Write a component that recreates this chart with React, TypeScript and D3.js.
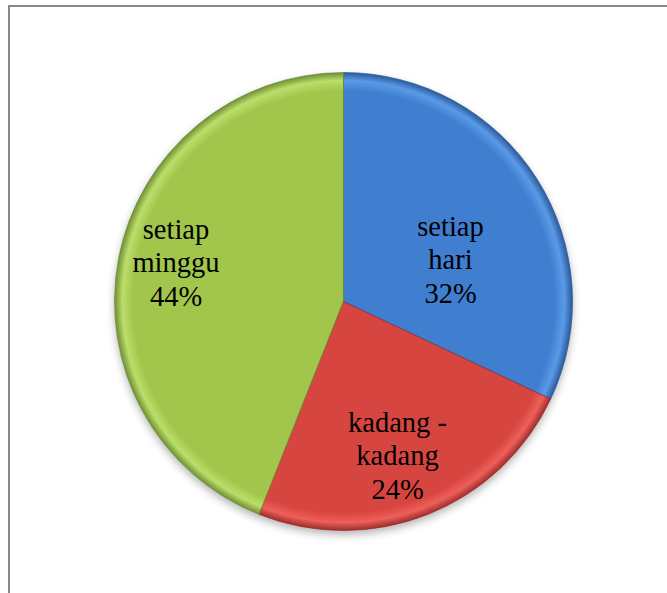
import React from "react";
import * as d3 from "d3";

const categories = ["setiap hari", "kadang - kadang", "setiap minggu"];
const values = [32, 24, 44];
const labelLines = [["setiap", "hari", "32%"], ["kadang -", "kadang", "24%"], ["setiap", "minggu", "44%"]];
const colorsLight = ["#5a9ae8", "#ee5f5a", "#bcde6a"];
const colorsMid = ["#3f7ed0", "#d7443f", "#a1c64b"];
const colorsDark = ["#2a5a98", "#9c2e2b", "#6f8f35"];

export default function App() {
  const W = 667, H = 593;
  const cx = 343.5, cy = 301.5, r = 229;
  const pie = d3.pie<number>().sort(null).value((d) => d)(values);
  const arc = d3.arc<d3.PieArcDatum<number>>().innerRadius(0).outerRadius(r);
  const fs = 28.5;
  const labelPos = [[450.5, 236], [397.5, 432], [176, 239]];
  const lh = 33.3;
  return (
    <svg width={W} height={H} style={{ position: "absolute", left: 0, top: 0 }}>
      <defs>
        {categories.map((c, i) => (
          <radialGradient key={c} id={`g${i}`} cx={0} cy={0} r={r} gradientUnits="userSpaceOnUse">
            <stop offset="0%" stopColor={colorsMid[i]} />
            <stop offset="92%" stopColor={colorsMid[i]} />
            <stop offset="96.5%" stopColor={colorsLight[i]} />
            <stop offset="100%" stopColor={colorsDark[i]} />
          </radialGradient>
        ))}
        <filter id="sh" x="-20%" y="-20%" width="140%" height="140%">
          <feGaussianBlur in="SourceAlpha" stdDeviation="4" />
          <feOffset dx="0" dy="4" result="b" />
          <feComponentTransfer><feFuncA type="linear" slope="0.3" /></feComponentTransfer>
          <feMerge><feMergeNode /><feMergeNode in="SourceGraphic" /></feMerge>
        </filter>
      </defs>
      <rect x={9} y={6} width={W} height={H} fill="#fff" stroke="#888" strokeWidth={2} />
      <g transform={`translate(${cx},${cy})`} filter="url(#sh)">
        {pie.map((p, i) => (
          <path key={i} d={arc(p) || ""} fill={`url(#g${i})`} />
        ))}
      </g>
      <g transform={`translate(${cx},${cy})`}>
        {pie.map((p, i) => (
          <path key={i} d={arc(p) || ""} fill="none" stroke={colorsDark[i]} strokeWidth={1} strokeOpacity={0.7} />
        ))}
      </g>
      <g fontFamily="'Liberation Serif', 'Times New Roman', serif" fontSize={fs} fill="#000" textAnchor="middle">
        {labelLines.map((lines, i) => (
          <text key={i}>
            {lines.map((t, j) => (
              <tspan key={j} x={labelPos[i][0]} y={labelPos[i][1] + j * lh}>{t}</tspan>
            ))}
          </text>
        ))}
      </g>
    </svg>
  );
}
